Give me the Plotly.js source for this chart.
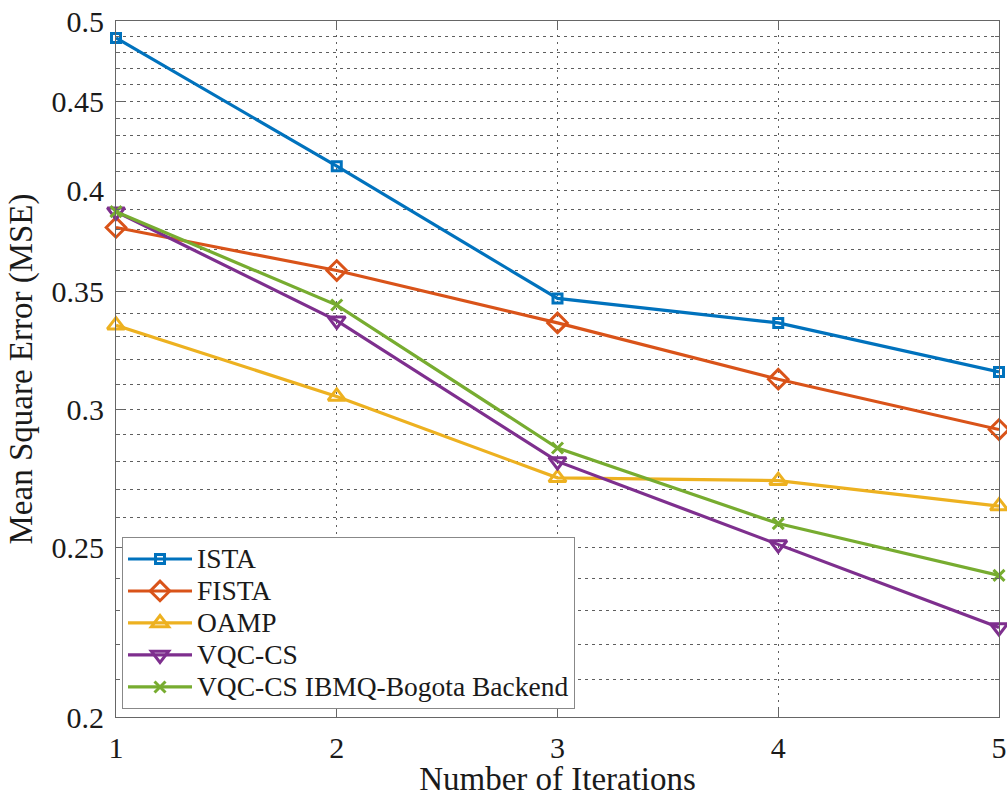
<!DOCTYPE html>
<html>
<head>
<meta charset="utf-8">
<script src="https://cdn.plot.ly/plotly-3.0.1.min.js"></script>
<style>html,body{margin:0;padding:0;background:#fff;}#chart{width:1007px;height:797px;}</style>
</head>
<body>
<div id="chart"></div>
<script>
var iterations = [1, 2, 3, 4, 5];
var ista = [0.489, 0.413, 0.347, 0.336, 0.315];
var fista = [0.381, 0.360, 0.336, 0.312, 0.292];
var oamp = [0.335, 0.305, 0.274, 0.273, 0.264];
var vqccs = [0.389, 0.337, 0.280, 0.251, 0.225];
var vqcBogota = [0.389, 0.344, 0.285, 0.258, 0.241];

var yMajorTicks = [0.2, 0.25, 0.3, 0.35, 0.4, 0.45, 0.5];
var yMajorLabels = ['0.2', '0.25', '0.3', '0.35', '0.4', '0.45', '0.5'];
var yMinorTicks = [0.21, 0.22, 0.23, 0.24, 0.26, 0.27, 0.28, 0.29, 0.31, 0.32, 0.33, 0.34,
                   0.36, 0.37, 0.38, 0.39, 0.41, 0.42, 0.43, 0.44, 0.46, 0.47, 0.48, 0.49];
var xTicks = [1, 2, 3, 4, 5];
var xLabels = ['1', '2', '3', '4', '5'];

var seriesNames = ['ISTA', 'FISTA', 'OAMP', 'VQC-CS', 'VQC-CS IBMQ-Bogota Backend'];
var seriesValues = [ista, fista, oamp, vqccs, vqcBogota];
var seriesColors = ['#0072BD', '#D95319', '#EDB120', '#7E2F8E', '#77AC30'];
var seriesSymbols = ['square-open', 'diamond-open', 'triangle-up-open', 'triangle-down-open', 'x-thin-open'];
var seriesSizes = [9, 15, 15, 15, 11];

var traces = seriesNames.map(function (name, i) {
  return {
    x: iterations,
    y: seriesValues[i],
    name: '<span style="font-size:27.5px">' + name + '</span>',
    type: 'scatter',
    mode: 'lines+markers',
    line: {color: seriesColors[i], width: 3.2},
    marker: {symbol: seriesSymbols[i], size: seriesSizes[i], color: seriesColors[i],
             line: {color: seriesColors[i], width: 3}},
    cliponaxis: false
  };
});

var fontFam = '"Liberation Serif", "Times New Roman", serif';
var axisColor = '#666666';
var gridColor = '#5e5e5e';

var layout = {
  width: 1007,
  height: 797,
  margin: {l: 116, r: 8, t: 21, b: 80},
  paper_bgcolor: '#ffffff',
  plot_bgcolor: '#ffffff',
  font: {family: fontFam, color: '#1a1a1a', size: 28},
  showlegend: true,
  legend: {
    x: 0.0068, y: 0.0115, xanchor: 'left', yanchor: 'bottom',
    bgcolor: '#ffffff', bordercolor: '#888888', borderwidth: 1,
    font: {family: fontFam, size: 22.3, color: '#1a1a1a'},
    itemwidth: 64, tracegroupgap: 0
  },
  xaxis: {
    range: [1, 5],
    tickmode: 'array', tickvals: xTicks, ticktext: xLabels,
    ticks: 'inside', ticklen: 8, tickwidth: 1, tickcolor: axisColor,
    showline: true, linecolor: axisColor, linewidth: 1, mirror: 'allticks',
    showgrid: true, gridcolor: gridColor, gridwidth: 1, griddash: '2px,5px',
    zeroline: false,
    tickfont: {family: fontFam, size: 30, color: '#1a1a1a'},
    ticklabelstandoff: 4,
    title: {text: 'Number of Iterations', font: {family: fontFam, size: 33, color: '#1a1a1a'}, standoff: 1}
  },
  yaxis: {
    type: 'log',
    range: [Math.log10(0.2), Math.log10(0.5)],
    tickmode: 'array', tickvals: yMajorTicks, ticktext: yMajorLabels,
    ticks: 'inside', ticklen: 8, tickwidth: 1, tickcolor: axisColor,
    showline: true, linecolor: axisColor, linewidth: 1, mirror: 'allticks',
    showgrid: true, gridcolor: gridColor, gridwidth: 1, griddash: '3px,4px',
    zeroline: false,
    tickfont: {family: fontFam, size: 30, color: '#1a1a1a'},
    ticklabelstandoff: 5,
    minor: {
      tickmode: 'array', tickvals: yMinorTicks,
      ticks: 'inside', ticklen: 4, tickcolor: axisColor, tickwidth: 1,
      showgrid: true, gridcolor: gridColor, gridwidth: 1, griddash: '3px,4px'
    },
    title: {text: 'Mean Square Error (MSE)', font: {family: fontFam, size: 33, color: '#1a1a1a'}, standoff: 8}
  }
};

Plotly.newPlot('chart', traces, layout, {displayModeBar: false, staticPlot: true});
</script>
</body>
</html>
